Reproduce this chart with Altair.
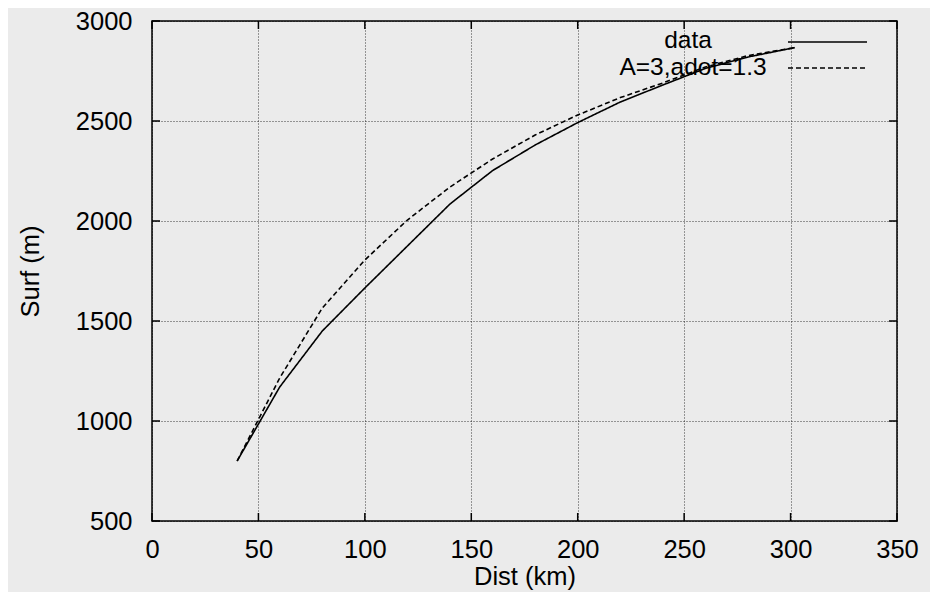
import altair as alt
import pandas as pd

# ---- data ----
dist_data = [40, 60, 80, 100, 120, 140, 160, 180, 200, 220, 240, 260, 280, 302]
surf_data = [800, 1170, 1450, 1665, 1875, 2085, 2252, 2380, 2492, 2595, 2680, 2763, 2820, 2867]
dist_model = [40, 60, 80, 100, 120, 140, 160, 180, 200, 220, 240, 260, 280, 302]
surf_model = [800, 1215, 1565, 1805, 2005, 2170, 2310, 2430, 2530, 2617, 2690, 2770, 2827, 2867]
series_names = ["data", "A=3,adot=1.3"]
x_ticks = [0, 50, 100, 150, 200, 250, 300, 350]
y_ticks = [500, 1000, 1500, 2000, 2500, 3000]

W, H = 745, 500
FONT = "Liberation Sans"
FS = 25.5
LEG_FS = 24.5
X_TITLE = "Dist (km)"
Y_TITLE = "Surf (m)"

df = pd.DataFrame({
    "dist": dist_data + dist_model,
    "surf": surf_data + surf_model,
    "series": [series_names[0]] * len(dist_data) + [series_names[1]] * len(dist_model),
})

xscale = alt.Scale(domain=[0, 350], nice=False, zero=False)
yscale = alt.Scale(domain=[500, 3000], nice=False, zero=False)

axis_common = dict(
    grid=True, gridDash=[1, 2], gridColor="black", gridOpacity=0.75, gridWidth=1,
    ticks=False, domain=False, format="d",
    labelFont=FONT, labelFontSize=FS, labelColor="black",
    titleFont=FONT, titleFontSize=FS, titleFontWeight="normal", titleColor="black",
)
x_axis = alt.Axis(values=x_ticks, title=X_TITLE, labelPadding=16, titlePadding=2,
                  labelFlush=False, **axis_common)
y_axis = alt.Axis(values=y_ticks, title=Y_TITLE, labelPadding=20, titlePadding=32,
                  labelFlush=False, **axis_common)

lines = alt.Chart(df).mark_line(color="black", strokeWidth=1.6).encode(
    x=alt.X("dist:Q", scale=xscale, axis=x_axis),
    y=alt.Y("surf:Q", scale=yscale, axis=y_axis),
    strokeDash=alt.StrokeDash("series:N",
                              scale=alt.Scale(domain=series_names, range=[[1, 0], [5, 3]]),
                              legend=None),
)

xt = pd.DataFrame({"t": x_ticks})
yt = pd.DataFrame({"t": y_ticks})
tick_x_bottom = alt.Chart(xt).mark_rule(color="black", strokeWidth=1.5).encode(
    x=alt.X("t:Q", scale=xscale, axis=x_axis), y=alt.value(H), y2=alt.value(H - 8))
tick_x_top = alt.Chart(xt).mark_rule(color="black", strokeWidth=1.5).encode(
    x=alt.X("t:Q", scale=xscale, axis=x_axis), y=alt.value(0), y2=alt.value(8))
tick_y_left = alt.Chart(yt).mark_rule(color="black", strokeWidth=1.5).encode(
    y=alt.Y("t:Q", scale=yscale, axis=y_axis), x=alt.value(0), x2=alt.value(8))
tick_y_right = alt.Chart(yt).mark_rule(color="black", strokeWidth=1.5).encode(
    y=alt.Y("t:Q", scale=yscale, axis=y_axis), x=alt.value(W), x2=alt.value(W - 8))

leg_text1 = alt.Chart(pd.DataFrame({"label": [series_names[0]]})).mark_text(
    font=FONT, fontSize=LEG_FS, color="black", align="center", baseline="middle").encode(
    text="label:N", x=alt.value(536), y=alt.value(20))
leg_text2 = alt.Chart(pd.DataFrame({"label": [series_names[1]]})).mark_text(
    font=FONT, fontSize=LEG_FS, color="black", align="center", baseline="middle").encode(
    text="label:N", x=alt.value(541), y=alt.value(47))
leg_line1 = alt.Chart(pd.DataFrame({"label": [series_names[0]]})).mark_rule(
    color="black", strokeWidth=1.6).encode(
    x=alt.value(636), x2=alt.value(715), y=alt.value(21))
leg_line2 = alt.Chart(pd.DataFrame({"label": [series_names[1]]})).mark_rule(
    color="black", strokeWidth=1.6, strokeDash=[5, 3]).encode(
    x=alt.value(636), x2=alt.value(715), y=alt.value(47))

chart = alt.layer(
    lines, leg_text1, leg_text2, tick_x_bottom, tick_x_top, tick_y_left, tick_y_right,
    leg_line1, leg_line2,
).properties(
    width=W, height=H,
    autosize=alt.AutoSizeParams(type="none"),
    padding={"left": 144, "top": 13, "right": 33, "bottom": 71},
    background="#ebebeb",
).configure_view(stroke="black", strokeWidth=1.5)

chart.save("out.html", embed_options={"renderer": "svg", "actions": False})
